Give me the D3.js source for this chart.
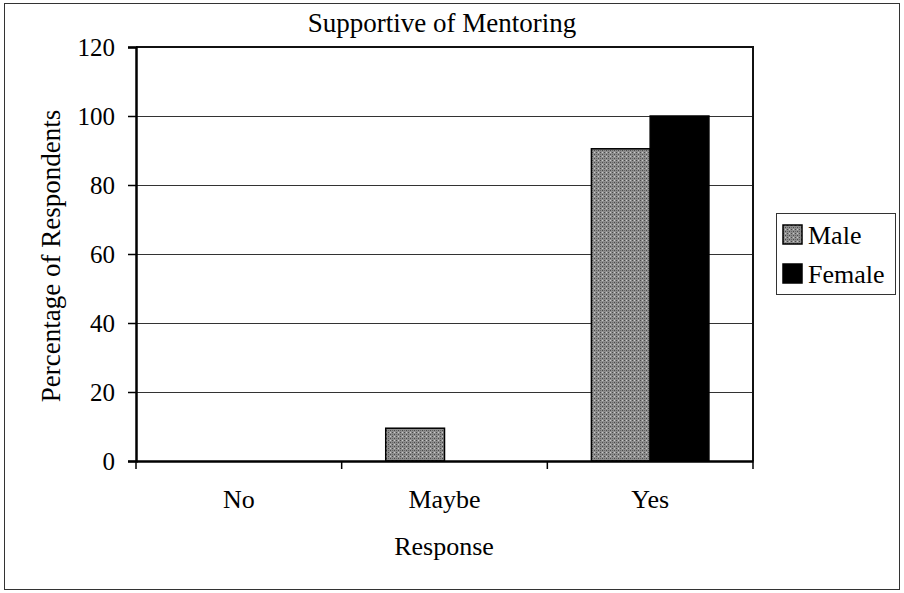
<!DOCTYPE html>
<html><head><meta charset="utf-8">
<script src="https://cdn.jsdelivr.net/npm/d3@7"></script>
</head><body style="margin:0">
<svg id="c" width="904" height="593" font-family="Liberation Serif" style="display:block"></svg>
<script>
const categories = ["No", "Maybe", "Yes"];
const seriesNames = ["Male", "Female"];
const maleValues = [0, 9.5, 90.5];
const femaleValues = [0, 0, 100];
const yTicks = [0, 20, 40, 60, 80, 100, 120];

const FONT = "Liberation Serif";
const svg = d3.select("#c");
const m = {l:136, r:753, t:47, b:461};
const defs = svg.append("defs");
const pat = defs.append("pattern").attr("id","dither").attr("patternUnits","userSpaceOnUse").attr("width",4).attr("height",4);
pat.append("rect").attr("width",4).attr("height",4).attr("fill","#8e8e8e");
pat.append("rect").attr("x",0).attr("y",0).attr("width",1).attr("height",1).attr("fill","#4a4a4a");
pat.append("rect").attr("x",2).attr("y",2).attr("width",1).attr("height",1).attr("fill","#4a4a4a");
pat.append("rect").attr("x",2).attr("y",0).attr("width",1).attr("height",1).attr("fill","#c8c8c8");
pat.append("rect").attr("x",0).attr("y",2).attr("width",1).attr("height",1).attr("fill","#6a6a6a");

// outer frame
svg.append("rect").attr("x",4.5).attr("y",3.5).attr("width",895).attr("height",586).attr("fill","none").attr("stroke","#333").attr("stroke-width",1);

const x = d3.scaleBand().domain(categories).range([m.l, m.r]);
const y = d3.scaleLinear().domain([0,120]).range([m.b, m.t]);
const bw = x.bandwidth()/3.5;
const xs = d3.scaleBand().domain(seriesNames).range([0, 2*bw]);

// gridlines
svg.append("g").selectAll("line").data(yTicks.filter(d=>d>0)).join("line")
  .attr("x1",m.l).attr("x2",m.r).attr("y1",d=>y(d)+0.5).attr("y2",d=>y(d)+0.5)
  .attr("stroke","#333").attr("stroke-width",1);

// bars
const data = [];
categories.forEach((c,i)=>{ data.push({c, s:"Male", v:maleValues[i]}); data.push({c, s:"Female", v:femaleValues[i]}); });
svg.append("g").selectAll("rect").data(data.filter(d=>d.v>0)).join("rect")
  .attr("x",d=>x(d.c)+(x.bandwidth()-2*bw)/2+xs(d.s))
  .attr("y",d=>y(d.v)).attr("width",bw).attr("height",d=>y(0)-y(d.v))
  .attr("fill",d=>d.s==="Male"?"url(#dither)":"#000")
  .attr("stroke","#000").attr("stroke-width",1.5);

// plot border (top/right)
svg.append("path").attr("d",`M${m.l},${m.t}H${m.r}V${m.b}`).attr("fill","none").attr("stroke","#111").attr("stroke-width",2);

// y axis
const ya = svg.append("g").attr("transform",`translate(${m.l},0)`)
  .call(d3.axisLeft(y).tickValues(yTicks).tickSize(8).tickPadding(13));
ya.attr("font-family", FONT).attr("font-size", 25);
ya.select(".domain").attr("stroke","#000").attr("stroke-width",2.5);
ya.selectAll(".tick line").attr("stroke","#000").attr("stroke-width",1.5);
ya.selectAll("text").attr("font-family", FONT).attr("font-size",25).attr("fill","#000");

// x axis
const xa = svg.append("g").attr("transform",`translate(0,${m.b})`)
  .call(d3.axisBottom(x).tickSize(0).tickPadding(0));
xa.attr("font-family", FONT).attr("font-size", 26);
xa.select(".domain").attr("stroke","#000").attr("stroke-width",2.5);
xa.selectAll(".tick text").attr("font-family", FONT).attr("font-size",26).attr("fill","#000").attr("dy",null).attr("y",47);
xa.append("g").selectAll("line").data(categories.map(c=>x(c)).concat([m.r])).join("line")
  .attr("x1",d=>d).attr("x2",d=>d).attr("y1",0).attr("y2",8).attr("stroke","#000").attr("stroke-width",1.5);

// titles
svg.append("text").attr("x",442).attr("y",32).attr("text-anchor","middle").attr("font-family",FONT).attr("font-size",27).text("Supportive of Mentoring");
svg.append("text").attr("x",444).attr("y",555).attr("text-anchor","middle").attr("font-family",FONT).attr("font-size",26).text("Response");
svg.append("text").attr("transform",`translate(60,256) rotate(-90)`).attr("text-anchor","middle").attr("font-family",FONT).attr("font-size",27).text("Percentage of Respondents");

// legend
const lg = svg.append("g").attr("transform","translate(776,213)");
lg.append("rect").attr("x",0.5).attr("y",0.5).attr("width",119).attr("height",81).attr("fill","#fff").attr("stroke","#333").attr("stroke-width",1);
seriesNames.forEach((s,i)=>{
  const g = lg.append("g").attr("transform",`translate(7,${12+i*39})`);
  g.append("rect").attr("x",0).attr("y",0).attr("width",19).attr("height",19)
    .attr("fill",s==="Male"?"url(#dither)":"#000").attr("stroke","#000").attr("stroke-width",1.5);
  g.append("text").attr("x",25).attr("y",19).attr("font-family",FONT).attr("font-size",26).text(s);
});
</script></body></html>
